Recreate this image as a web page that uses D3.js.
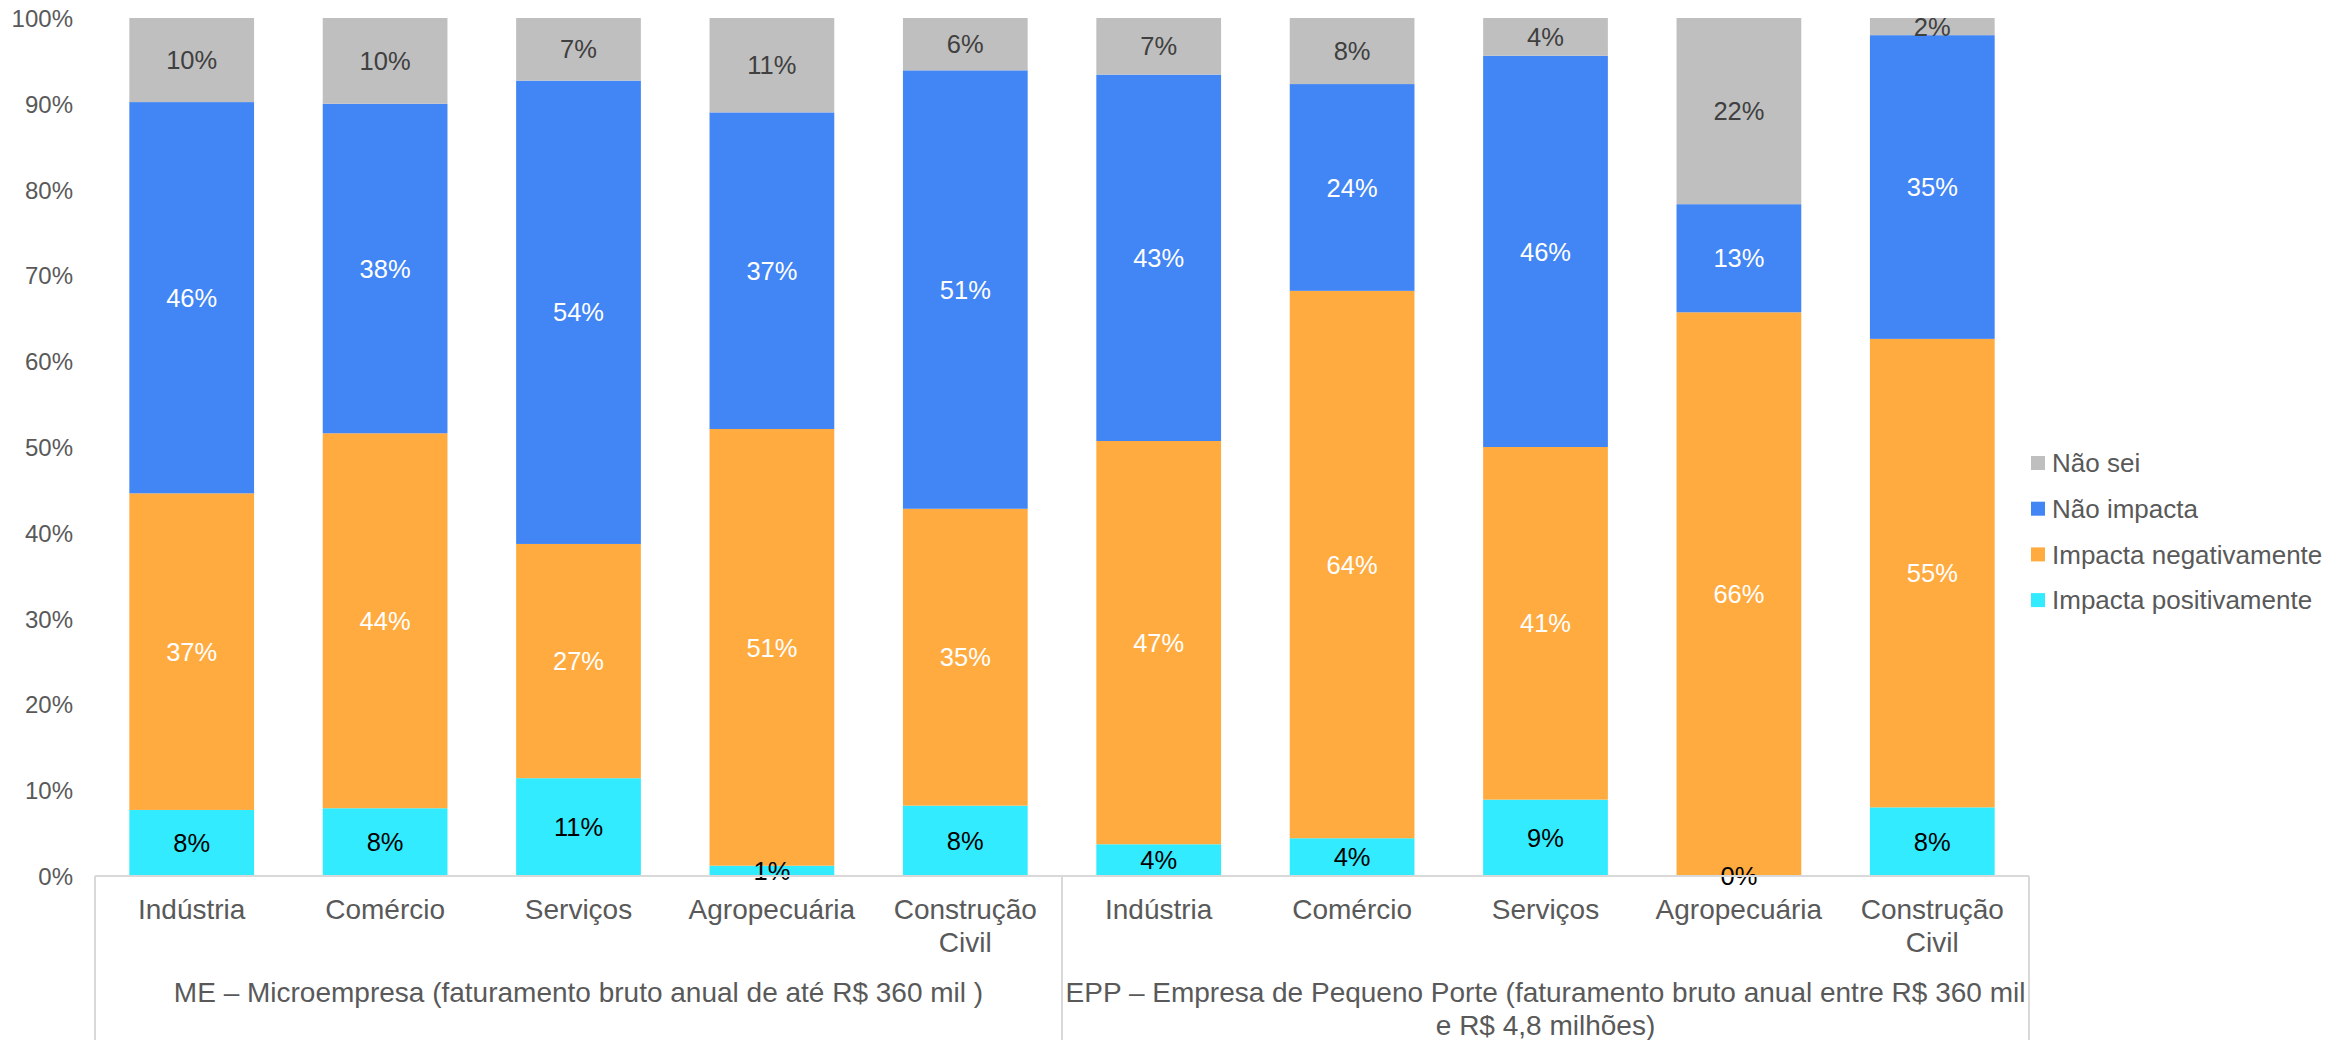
<!DOCTYPE html>
<html><head><meta charset="utf-8">
<script src="https://cdn.jsdelivr.net/npm/d3@7"></script>
<style>html,body{margin:0;padding:0;background:#fff;} svg{display:block;font-family:"Liberation Sans",Arial,sans-serif;}</style>
</head><body>
<svg id="c" width="2351" height="1040"></svg>
<script>
const sectors = ["Indústria","Comércio","Serviços","Agropecuária","Construção Civil"];
const groups = ["ME – Microempresa (faturamento bruto anual de até R$ 360 mil )",
                "EPP – Empresa de Pequeno Porte (faturamento bruto anual entre R$ 360 mil e R$ 4,8 milhões)"];
const seriesNames = ["Impacta positivamente","Impacta negativamente","Não impacta","Não sei"];
const seriesColors = ["#33ebff","#ffab40","#4285f4","#bfbfbf"];
const labelColors = ["#000000","#ffffff","#ffffff","#404040"];
// values in % ; order: ME sectors then EPP sectors
const impactaPositivamente = [7.7, 7.9, 11.4, 1.2, 8.2,   3.7, 4.4, 8.9, 0.0, 8.0];
const impactaNegativamente = [36.9, 43.7, 27.3, 50.9, 34.6,  47.0, 63.8, 41.1, 65.7, 54.6];
const naoImpacta           = [45.6, 38.4, 54.0, 36.9, 51.1,  42.7, 24.1, 45.6, 12.6, 35.4];
const naoSei               = [9.8, 10.0, 7.3, 11.0, 6.1,    6.6, 7.7, 4.4, 21.7, 2.0];
const yTicks = [0,10,20,30,40,50,60,70,80,90,100];

const rows = [];
groups.forEach((g,gi)=>sectors.forEach((s,si)=>{
  const i = gi*sectors.length+si;
  rows.push({key:gi+"|"+s, sector:s, group:gi,
    s0:impactaPositivamente[i], s1:impactaNegativamente[i], s2:naoImpacta[i], s3:naoSei[i]});
}));

const svg = d3.select("#c");
const x0 = 95, x1 = 2029, yTop = 18, yBot = 876;
const x = d3.scaleBand().domain(rows.map(d=>d.key)).range([x0,x1]).paddingInner(0.355).paddingOuter(0.1775);
const y = d3.scaleLinear().domain([0,100]).range([yBot,yTop]);

const stack = d3.stack().keys(["s0","s1","s2","s3"]);
const stacked = stack(rows);

const gSeries = svg.append("g").selectAll("g").data(stacked).join("g")
  .attr("fill",(d,i)=>seriesColors[i]);
gSeries.selectAll("rect").data(d=>d).join("rect")
  .attr("x",d=>x(d.data.key)).attr("width",x.bandwidth())
  .attr("y",d=>y(d[1])).attr("height",d=>y(d[0])-y(d[1]));

// data labels
stacked.forEach((ser,si)=>{
  svg.append("g").selectAll("text").data(ser).join("text")
    .attr("x",d=>x(d.data.key)+x.bandwidth()/2)
    .attr("y",d=>(y(d[0])+y(d[1]))/2)
    .attr("dy","0.36em")
    .attr("text-anchor","middle")
    .attr("font-size",25.5)
    .attr("fill",labelColors[si])
    .text(d=>Math.round(d[1]-d[0])+"%");
});

// y axis labels
const yAxis = d3.axisLeft(y).tickValues(yTicks).tickFormat(d=>d+"%").tickSize(0).tickPadding(0);
const ya = svg.append("g").attr("transform","translate(73,0)").call(yAxis);
ya.select(".domain").remove();
ya.selectAll("text").attr("font-size",24).attr("fill","#595959").attr("font-family","Liberation Sans, Arial, sans-serif").attr("dy","0.35em");

// x axis line and separators
const lineCol = "#d9d9d9";
svg.append("line").attr("x1",x0).attr("x2",x1).attr("y1",yBot).attr("y2",yBot).attr("stroke",lineCol).attr("stroke-width",2);
const step = x.step();
[0,5,10].forEach(k=>{
  const xx = x0 + k*step;
  svg.append("line").attr("x1",xx).attr("x2",xx).attr("y1",yBot).attr("y2",1040).attr("stroke",lineCol).attr("stroke-width",2);
});

// category labels
const cat = svg.append("g").selectAll("text").data(rows).join("text")
  .attr("x",d=>x(d.key)+x.bandwidth()/2)
  .attr("y",919)
  .attr("text-anchor","middle").attr("font-size",28).attr("fill","#595959");
cat.each(function(d){
  const parts = d.sector==="Construção Civil" ? ["Construção","Civil"] : [d.sector];
  const t = d3.select(this);
  parts.forEach((p,i)=>t.append("tspan").attr("x",x(d.key)+x.bandwidth()/2).attr("dy",i?33:0).text(p));
});

// group labels
const groupLines = [[groups[0]],
  ["EPP – Empresa de Pequeno Porte (faturamento bruto anual entre R$ 360 mil","e R$ 4,8 milhões)"]];
groupLines.forEach((lines,gi)=>{
  const cx = x0 + (gi*5+2.5)*step;
  const t = svg.append("text").attr("x",cx).attr("y",1002).attr("text-anchor","middle")
    .attr("font-size",28).attr("fill","#595959");
  lines.forEach((l,i)=>t.append("tspan").attr("x",cx).attr("dy",i?33:0).text(l));
});

// legend (top to bottom: reverse series)
const legendOrder = [3,2,1,0];
const lg = svg.append("g").selectAll("g").data(legendOrder).join("g")
  .attr("transform",(d,i)=>`translate(2031,${463 + i*45.7})`);
lg.append("rect").attr("x",0).attr("y",-7).attr("width",14).attr("height",14).attr("fill",d=>seriesColors[d]);
lg.append("text").attr("x",21).attr("y",0).attr("dy","0.35em").attr("font-size",26).attr("fill","#595959").text(d=>seriesNames[d]);
</script>
</body></html>
